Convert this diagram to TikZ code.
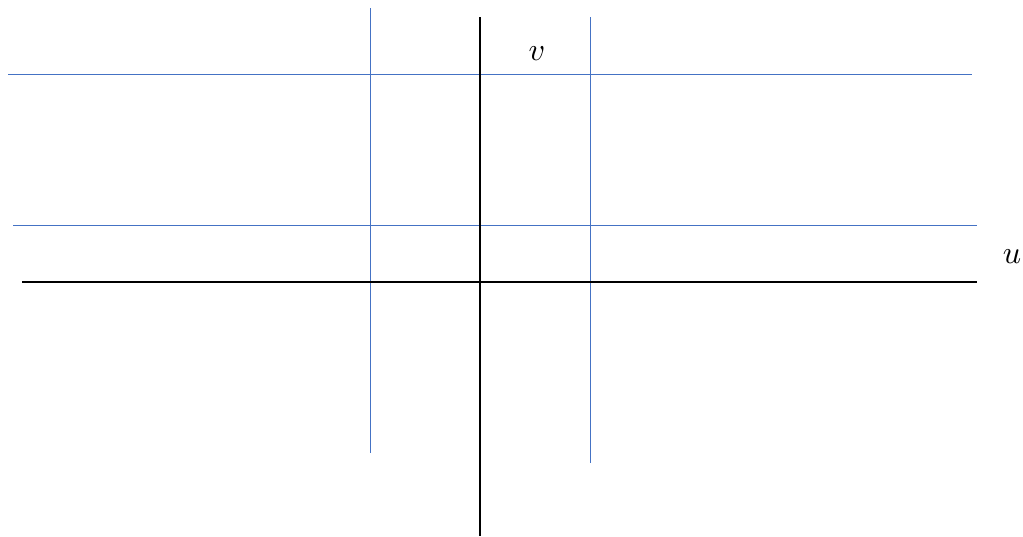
\documentclass[tikz,border=0pt]{standalone}
\definecolor{gridblue}{RGB}{68,114,196}
\newcommand{\biglbl}[1]{\scalebox{3.2}{$#1$}}
\begin{document}
\begin{tikzpicture}[x=1pt,y=-1pt,
  axisline/.style={draw=black,line width=2.4pt},
  gridline/.style={draw=gridblue,line width=1pt},
  lbl/.style={inner sep=0pt}]
\useasboundingbox (0,0) rectangle (1023,536);
% blue grid lines
\coordinate (h1a) at (8,74);   \coordinate (h1b) at (972,74);
\coordinate (h2a) at (13,225); \coordinate (h2b) at (977,225);
\coordinate (v1a) at (370,8);  \coordinate (v1b) at (370,453);
\coordinate (v2a) at (590,17); \coordinate (v2b) at (590,463);
\draw[gridline] (h1a) -- (h1b);
\draw[gridline] (h2a) -- (h2b);
\draw[gridline] (v1a) -- (v1b);
\draw[gridline] (v2a) -- (v2b);
% axes
\coordinate (xa) at (22,282);  \coordinate (xb) at (977,282);
\coordinate (ya) at (480,17);  \coordinate (yb) at (480,536);
\draw[axisline] (xa) -- (xb);
\draw[axisline] (ya) -- (yb);
% labels
\node[lbl] (vlab) at (537,54) {\biglbl{v}};
\node[lbl] (ulab) at (1012,257) {\biglbl{u}};
\end{tikzpicture}
\end{document}
